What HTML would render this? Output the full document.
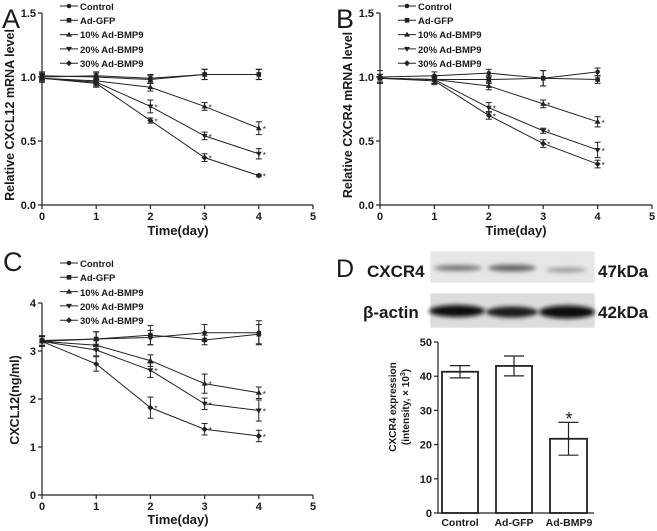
<!DOCTYPE html>
<html><head><meta charset="utf-8"><style>
html,body{margin:0;padding:0;background:#fff;}
svg{display:block;font-family:"Liberation Sans",Arial,sans-serif;}
text{fill:#1a1a1a;}
</style></head><body>
<svg id="s" width="657" height="531" viewBox="0 0 657 531" xmlns="http://www.w3.org/2000/svg">
<defs>
<filter id="bl" x="-20%" y="-100%" width="140%" height="300%"><feGaussianBlur stdDeviation="2.2"/></filter>
<filter id="bg" x="0" y="0" width="100%" height="100%"><feGaussianBlur stdDeviation="1"/></filter>
</defs>
<!-- panel letters -->
<text x="2" y="28" font-size="27">A</text>
<text x="336" y="28" font-size="27">B</text>
<text x="3" y="271" font-size="27">C</text>
<text x="336" y="277" font-size="25">D</text>
<!-- axis titles -->
<text x="178" y="235" font-size="13" font-weight="bold" text-anchor="middle">Time(day)</text>
<text x="516" y="235" font-size="13" font-weight="bold" text-anchor="middle">Time(day)</text>
<text x="178" y="524" font-size="13" font-weight="bold" text-anchor="middle">Time(day)</text>
<text transform="translate(14,115) rotate(-90)" font-size="12.5" font-weight="bold" text-anchor="middle">Relative CXCL12 mRNA level</text>
<text transform="translate(352,115) rotate(-90)" font-size="12.5" font-weight="bold" text-anchor="middle">Relative CXCR4 mRNA level</text>
<text transform="translate(19,400) rotate(-90)" font-size="12.5" font-weight="bold" text-anchor="middle">CXCL12(ng/ml)</text>
<text transform="translate(396,407) rotate(-90)" font-size="10" font-weight="bold" text-anchor="middle">CXCR4 expression</text>
<text transform="translate(409,407) rotate(-90)" font-size="10" font-weight="bold" text-anchor="middle">(intensity, × 10<tspan font-size="7" dy="-4">3</tspan><tspan dy="4">)</tspan></text>
<!-- legends -->
<g font-size="9.5" font-weight="bold">
<text x="80" y="10">Control</text><text x="80" y="24">Ad-GFP</text><text x="80" y="38">10% Ad-BMP9</text><text x="80" y="53">20% Ad-BMP9</text><text x="80" y="67">30% Ad-BMP9</text>
<text x="418" y="10">Control</text><text x="418" y="24">Ad-GFP</text><text x="418" y="38">10% Ad-BMP9</text><text x="418" y="53">20% Ad-BMP9</text><text x="418" y="67">30% Ad-BMP9</text>
<text x="80" y="267">Control</text><text x="80" y="281">Ad-GFP</text><text x="80" y="296">10% Ad-BMP9</text><text x="80" y="310">20% Ad-BMP9</text><text x="80" y="324">30% Ad-BMP9</text>
</g>
<!-- blots -->
<rect x="430" y="251" width="165" height="32" fill="#e6e6e6" filter="url(#bg)"/>
<rect x="430" y="293" width="165" height="35" fill="#dcdcdc" filter="url(#bg)"/>
<ellipse cx="458" cy="268" rx="24" ry="3" fill="#777" filter="url(#bl)"/>
<ellipse cx="512" cy="268" rx="24" ry="3.5" fill="#666" filter="url(#bl)"/>
<ellipse cx="566" cy="270" rx="20" ry="2.5" fill="#999" filter="url(#bl)"/>
<ellipse cx="457" cy="311" rx="28" ry="6" fill="#111" filter="url(#bl)"/>
<ellipse cx="512" cy="312" rx="26" ry="5.5" fill="#1a1a1a" filter="url(#bl)"/>
<ellipse cx="567" cy="312" rx="28" ry="6.5" fill="#0a0a0a" filter="url(#bl)"/>
<g font-size="17" font-weight="bold">
<text x="367" y="277">CXCR4</text><text x="598" y="277">47kDa</text>
<text x="363" y="318">β-actin</text><text x="598" y="318">42kDa</text>
</g>
<g font-size="10.5" font-weight="bold" text-anchor="middle">
<text x="460" y="526">Control</text><text x="514" y="526">Ad-GFP</text><text x="569" y="526">Ad-BMP9</text>
</g>
<text x="569" y="425" font-size="18" text-anchor="middle">*</text>
<g id="g" stroke="#222" fill="none" stroke-width="1.2"></g>
<g id="t" font-size="11" font-weight="bold"></g>
</svg>
<script>
var NS="http://www.w3.org/2000/svg",g=document.getElementById('g'),tg=document.getElementById('t');
function el(n,a,p){var e=document.createElementNS(NS,n);for(var k in a)e.setAttribute(k,a[k]);(p||g).appendChild(e);return e;}
function ln(a,b,c,d,w){el('line',{x1:a,y1:b,x2:c,y2:d,'stroke-width':w||1.2});}
function tx(x,y,s,anc){var e=el('text',{x:x,y:y,'text-anchor':anc||'middle'},tg);e.textContent=s;}
function mk(x,y,i){var f={fill:'#222',stroke:'none'};
 if(i==0)el('circle',Object.assign({cx:x,cy:y,r:2.3},f));
 else if(i==1)el('rect',Object.assign({x:x-2.3,y:y-2.3,width:4.6,height:4.6},f));
 else if(i==2)el('path',Object.assign({d:'M'+x+' '+(y-3)+'l3 5h-6z'},f));
 else if(i==3)el('path',Object.assign({d:'M'+x+' '+(y+3)+'l3 -5h-6z'},f));
 else el('path',Object.assign({d:'M'+x+' '+(y-3)+'l3 3l-3 3l-3 -3z'},f));}
function panel(x0,x5,yTop,yBot,ymax,yt,ylab,data,errs,star,ly){
 ln(x0,yTop,x0,yBot);ln(x0,yBot,x5,yBot);
 var dx=(x5-x0)/5;
 for(var i=0;i<=5;i++){ln(x0+i*dx,yBot,x0+i*dx,yBot+4);tx(x0+i*dx,yBot+15,''+i);}
 yt.forEach(function(v,j){var y=yBot-(yBot-yTop)*v/ymax;ln(x0-4,y,x0,y);tx(x0-6,y+4,ylab[j],'end');});
 data.forEach(function(s,k){var pts=s.map(function(v,i){return [x0+i*dx,yBot-(yBot-yTop)*v/ymax];});
  el('polyline',{points:pts.map(function(p){return p.join(',')}).join(' '),'stroke-width':1});
  pts.forEach(function(p,i){var e=errs[k][i]*(yBot-yTop)/ymax;ln(p[0],p[1]-e,p[0],p[1]+e,1);ln(p[0]-3,p[1]-e,p[0]+3,p[1]-e,1);ln(p[0]-3,p[1]+e,p[0]+3,p[1]+e,1);mk(p[0],p[1],k);
   if(star&&k>=2&&(i>=3||(i==2&&k>=3))){var t=el('text',{x:p[0]+4,y:p[1]+4,'font-size':8,fill:'#444',stroke:'none'});t.textContent='*';}});
 });
 for(var k=0;k<5;k++){var y=ly+k*14.3;ln(x0+18,y,x0+36,y,1);mk(x0+27,y,k);}
}
var e1=[[.03,.03,.03,.04,.04],[.03,.03,.03,.04,.04],[.03,.03,.03,.03,.05],[.03,.03,.05,.03,.04],[.03,.03,.02,.03,.01]];
panel(42,313,13,205,1.5,[0,.5,1,1.5],['0.0','0.5','1.0','1.5'],
 [[1,1.01,.99,1.02,1.02],[1.01,1,.98,1.02,1.02],[.99,.97,.92,.77,.6],[.99,.96,.77,.54,.4],[.99,.95,.66,.37,.23]],e1,true,6);
var e2=[[.05,.03,.03,.06,.03],[.03,.03,.03,.06,.03],[.03,.03,.03,.03,.04],[.03,.03,.04,.02,.06],[.03,.03,.03,.03,.03]];
panel(380,652,13,205,1.5,[0,.5,1,1.5],['0.0','0.5','1.0','1.5'],
 [[1,1.01,1.03,.99,1.04],[.99,.98,.98,.99,.98],[.99,.98,.93,.79,.65],[.99,.98,.76,.58,.43],[.99,.97,.7,.48,.32]],e2,true,6);
var e3=[[.1,.15,.15,.17,.25],[.1,.15,.2,.1,.2],[.1,.1,.12,.2,.12],[.1,.12,.15,.12,.22],[.1,.15,.22,.12,.12]];
panel(42,313,303,495,4,[0,1,2,3,4],['0','1','2','3','4'],
 [[3.2,3.25,3.28,3.38,3.38],[3.22,3.25,3.33,3.23,3.35],[3.2,3.12,2.8,2.32,2.13],[3.2,3.02,2.6,1.9,1.76],[3.2,2.73,1.82,1.37,1.23]],e3,true,263);
// bar chart
var bx0=438,by0=513,byT=342,sc=(by0-byT)/50;
ln(bx0,byT,bx0,by0);ln(bx0,by0,594,by0);
for(var v=0;v<=50;v+=10){var y=by0-v*sc;ln(bx0-4,y,bx0,y);tx(bx0-6,y+4,''+v,'end');}
[[442,478,41.3,1.8],[496,532,43,2.9],[550,587,21.7,4.8]].forEach(function(b){
 var y=by0-b[2]*sc,c=(b[0]+b[1])/2,e=b[3]*sc;
 el('rect',{x:b[0],y:y,width:b[1]-b[0],height:by0-y,'stroke-width':1.8});
 ln(c,y-e,c,y+e);ln(c-10,y-e,c+10,y-e);ln(c-10,y+e,c+10,y+e);});
</script>
</body></html>
